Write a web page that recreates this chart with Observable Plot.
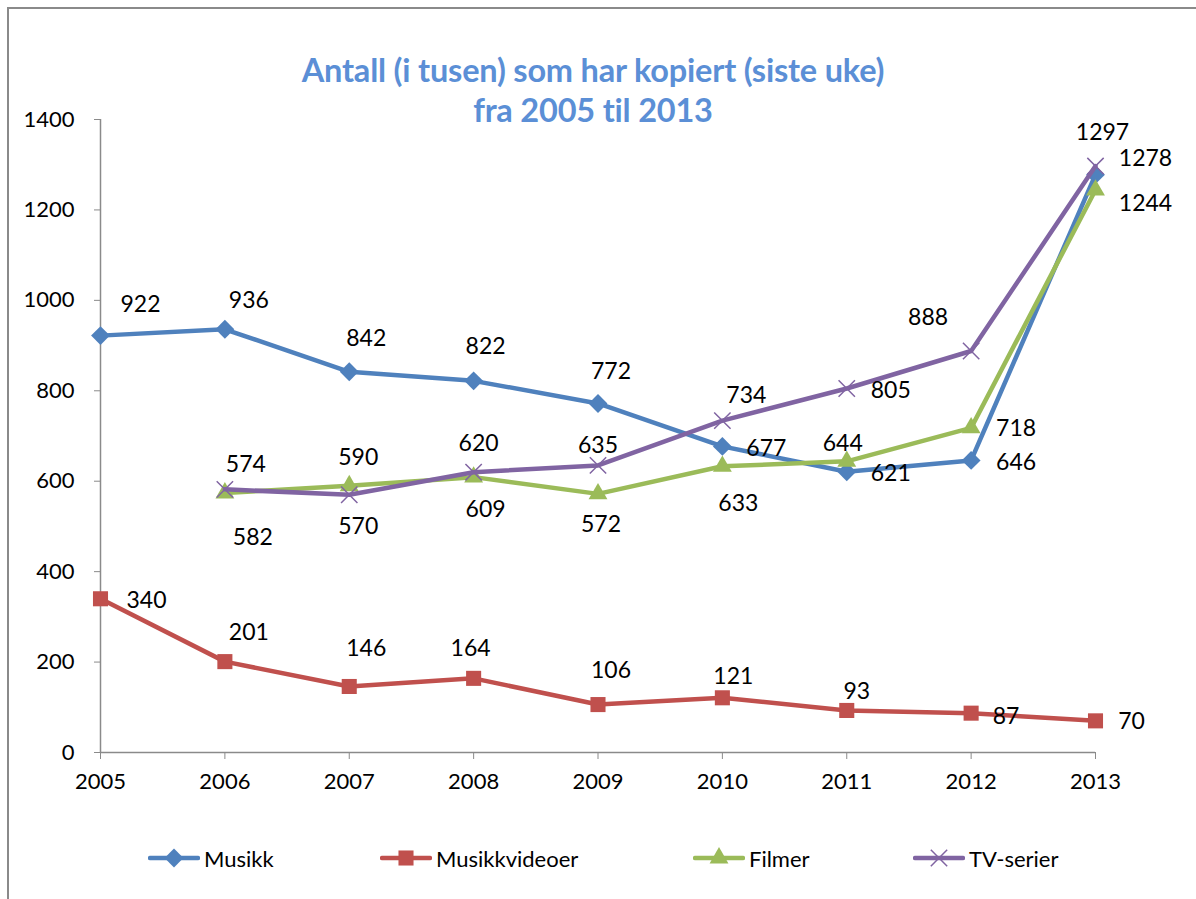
<!DOCTYPE html>
<html>
<head>
<meta charset="utf-8">
<script src="https://cdn.jsdelivr.net/npm/d3@7"></script>
<script src="https://cdn.jsdelivr.net/npm/@observablehq/plot@0.6"></script>
<style>
  html, body { margin: 0; padding: 0; background: #fff; overflow: hidden; }
  body { width: 1196px; height: 899px; position: relative; font-family: Lato, "Liberation Sans", sans-serif; }
  #frame { position: absolute; left: 7px; top: 7px; width: 1300px; height: 1000px;
           border-left: 2px solid #8a8a8a; border-top: 2px solid #8a8a8a; }
  #title { position: absolute; left: 0; top: 50px; width: 1186px; text-align: center;
           color: #5B8FD6; font-weight: bold; font-size: 32.5px; line-height: 40px; letter-spacing: -0.2px; }
  #chart { position: absolute; left: 0; top: 0; }
  #legend { position: absolute; left: 0; top: 840px; width: 1196px; height: 36px; }
  .item { position: absolute; top: 0; display: flex; align-items: center; height: 36px; font-size: 22px; color: #000; }
  .item svg { margin-right: 4px; }
</style>
</head>
<body>
<div id="frame"></div>
<div id="chart"></div>
<div id="title">Antall (i tusen) som har kopiert (siste uke)<br>fra 2005 til 2013</div>
<div id="legend"></div>
<script>
// ---- data ----
const years = [2005, 2006, 2007, 2008, 2009, 2010, 2011, 2012, 2013];
const seriesNames = ["Musikk", "Musikkvideoer", "Filmer", "TV-serier"];
const musikk = [922, 936, 842, 822, 772, 677, 621, 646, 1278];
const musikkvideoer = [340, 201, 146, 164, 106, 121, 93, 87, 70];
const filmer = [null, 574, 590, 609, 572, 633, 644, 718, 1244];
const tvSerier = [null, 582, 570, 620, 635, 734, 805, 888, 1297];
const yTicks = [0, 200, 400, 600, 800, 1000, 1200, 1400];

// ---- styling / label layout (offsets in px relative to point) ----
const colors = ["#4F81BD", "#C0504D", "#9BBB59", "#8064A2"];
const symbols = ["diamond2", "square", "triangle", "times"];
const labelOffsets = [
  [[40,-31],[24,-29],[17,-33],[12,-34],[13,-32],[44,2],[44,2],[45,2],[50,-16]],
  [[46,2],[24,-29],[17,-38],[-3,-30],[13,-34],[11,-21],[10,-19],[35,3],[36,1]],
  [null,[21,-28],[9,-28],[12,32],[3,31],[16,37],[-4,-18],[45,1],[50,14]],
  [null,[28,48],[9,32],[5,-29],[0,-20],[24,-25],[44,2],[-43,-33],[7,-33]]
];

const all = [musikk, musikkvideoer, filmer, tvSerier];
const rows = [];
all.forEach((vals, si) => vals.forEach((v, i) => {
  if (v != null) rows.push({series: seriesNames[si], si, year: years[i], value: v, off: labelOffsets[si][i]});
}));

const marks = [
  Plot.ruleY([0], {stroke: "#8a8a8a", strokeWidth: 1.5}),
  Plot.ruleX([2005], {stroke: "#8a8a8a", strokeWidth: 1.5}),
  Plot.axisY({ticks: yTicks, tickSize: 6, tickPadding: 20, stroke: "#8a8a8a", fontSize: 22, label: null, tickFormat: d => String(d)}),
  Plot.axisX({ticks: years, tickSize: 7, tickPadding: 14, stroke: "#8a8a8a", fontSize: 22, label: null, tickFormat: d => String(d)})
];

seriesNames.forEach((name, si) => {
  const d = rows.filter(r => r.si === si);
  marks.push(Plot.line(d, {x: "year", y: "value", stroke: colors[si], strokeWidth: 4.5, strokeLinejoin: "round"}));
  if (symbols[si] === "times") {
    marks.push(Plot.dot(d, {x: "year", y: "value", symbol: "times", r: 7.5, stroke: colors[si], strokeWidth: 1.5, fill: "none"}));
  } else {
    const r = symbols[si] === "triangle" ? 7 : 8.5;
    marks.push(Plot.dot(d, {x: "year", y: "value", symbol: symbols[si], r, fill: colors[si], stroke: "none"}));
  }
});
rows.forEach(r => {
  marks.push(Plot.text([r], {x: "year", y: "value", text: d => String(d.value), dx: r.off[0], dy: r.off[1],
    fill: "#000", fontSize: 23, textAnchor: "middle"}));
});

const chart = Plot.plot({
  width: 1196,
  height: 815,
  marginLeft: 100,
  marginRight: 101,
  marginTop: 119,
  marginBottom: 63,
  style: {fontFamily: 'Lato, "Liberation Sans", sans-serif', fontSize: "22px", color: "#000", background: "transparent", overflow: "visible"},
  x: {domain: [2005, 2013]},
  y: {domain: [0, 1400]},
  marks
});
document.getElementById("chart").appendChild(chart);

// ---- legend ----
const legendX = [148, 380, 693, 913];
const legend = document.getElementById("legend");
seriesNames.forEach((name, si) => {
  const item = document.createElement("div");
  item.className = "item";
  item.style.left = legendX[si] + "px";
  const sw = d3.create("svg").attr("width", 52).attr("height", 36);
  sw.append("line").attr("x1", 2).attr("x2", 50).attr("y1", 18).attr("y2", 18)
    .attr("stroke", colors[si]).attr("stroke-width", 4.5).attr("stroke-linecap", "round");
  const symMap = {diamond2: d3.symbolDiamond2, square: d3.symbolSquare, triangle: d3.symbolTriangle, times: d3.symbolTimes};
  const rr = symbols[si] === "triangle" ? 7 : (symbols[si] === "times" ? 7.5 : 8.5);
  const p = sw.append("path").attr("transform", "translate(26,18)")
    .attr("d", d3.symbol(symMap[symbols[si]], Math.PI * rr * rr)());
  if (symbols[si] === "times") p.attr("stroke", colors[si]).attr("stroke-width", 1.5).attr("fill", "none");
  else p.attr("fill", colors[si]);
  item.appendChild(sw.node());
  const t = document.createElement("span");
  t.textContent = name;
  item.appendChild(t);
  legend.appendChild(item);
});
</script>
</body>
</html>
